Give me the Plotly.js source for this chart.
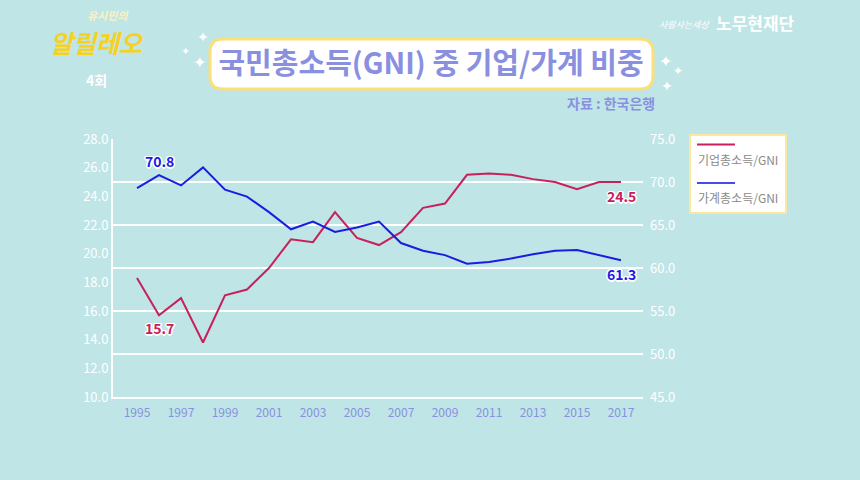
<!DOCTYPE html>
<html>
<head>
<meta charset="utf-8">
<script src="https://cdn.plot.ly/plotly-3.0.1.min.js"></script>
<style>
html,body{margin:0;padding:0;background:#bfe5e7;}
#chart{width:860px;height:480px;}
</style>
</head>
<body>
<div id="chart"></div>
<script>
// ---- data ----
const years = [1995,1996,1997,1998,1999,2000,2001,2002,2003,2004,2005,2006,2007,2008,2009,2010,2011,2012,2013,2014,2015,2016,2017];
const corpShare = [18.3,15.7,16.9,13.8,17.1,17.5,19.0,21.0,20.8,22.9,21.1,20.6,21.5,23.2,23.5,25.5,25.6,25.5,25.2,25.0,24.5,25.0,25.0];
const houseShare = [69.3,70.8,69.6,71.7,69.1,68.3,66.5,64.5,65.4,64.2,64.7,65.4,62.9,62.0,61.5,60.5,60.7,61.1,61.6,62.0,62.1,61.5,60.9];
const seriesNames = ['기업총소득/GNI','가계총소득/GNI'];
const titleText = '국민총소득(GNI) 중 기업/가계 비중';
const sourceText = '자료 : 한국은행';
// labels: [series index, year, text]
const pointLabels = [[1,1996,'70.8'],[0,1996,'15.7'],[0,2017,'24.5'],[1,2017,'61.3']];

// ---- styling ----
const BG = '#bfe5e7';
const RED = '#c8205a';
const BLUE = '#1c1ce0';
const PERI = '#8a90e0';
const FONT = '"Noto Sans CJK KR", "Noto Sans", sans-serif';

// plot area in pixels
const L = 113, R = 643, T = 139, B = 397;
const px = X => (X - L) / (R - L);
const py = Y => (B - Y) / (B - T);

function roundRect(x0, y0, x1, y1, r) {
  const p = (x, y) => px(x) + ',' + py(y);
  return 'M' + p(x0 + r, y0) + ' L' + p(x1 - r, y0) + ' Q' + p(x1, y0) + ' ' + p(x1, y0 + r) +
    ' L' + p(x1, y1 - r) + ' Q' + p(x1, y1) + ' ' + p(x1 - r, y1) +
    ' L' + p(x0 + r, y1) + ' Q' + p(x0, y1) + ' ' + p(x0, y1 - r) +
    ' L' + p(x0, y0 + r) + ' Q' + p(x0, y0) + ' ' + p(x0 + r, y0) + ' Z';
}

const traces = [
  {x: years, y: corpShare, name: seriesNames[0], type: 'scatter', mode: 'lines',
   line: {color: RED, width: 2}, yaxis: 'y', hoverinfo: 'x+y'},
  {x: years, y: houseShare, name: seriesNames[1], type: 'scatter', mode: 'lines',
   line: {color: BLUE, width: 2}, yaxis: 'y2', hoverinfo: 'x+y'}
];

const outline = '-1px -1px 0 #fff, 1px -1px 0 #fff, -1px 1px 0 #fff, 1px 1px 0 #fff, 0 1.5px 0 #fff, 0 -1.5px 0 #fff, 1.5px 0 0 #fff, -1.5px 0 0 #fff';

const annotations = [];
// data labels
pointLabels.forEach(([s, yr, txt]) => {
  const i = years.indexOf(yr);
  const val = s === 0 ? corpShare[i] : houseShare[i];
  const above = (s === 1 && yr === 1996);
  annotations.push({
    x: yr, y: val, xref: 'x', yref: s === 0 ? 'y' : 'y2',
    text: '<b>' + txt + '</b>', showarrow: false,
    yshift: above ? 14 : (yr === 2017 ? -14 : -13),
    font: {family: FONT, size: 14, color: s === 0 ? RED : BLUE, shadow: outline}
  });
});
// source
annotations.push({xref: 'paper', yref: 'paper', x: px(657), y: py(103), xanchor: 'right', yanchor: 'middle',
  text: '<b>' + sourceText + '</b>', showarrow: false, font: {family: FONT, size: 14, color: PERI}});
// legend texts
annotations.push({xref: 'paper', yref: 'paper', x: px(696), y: py(159), xanchor: 'left', yanchor: 'middle',
  text: seriesNames[0], showarrow: false, font: {family: FONT, size: 12, color: '#8a8a8a'}});
annotations.push({xref: 'paper', yref: 'paper', x: px(696), y: py(197), xanchor: 'left', yanchor: 'middle',
  text: seriesNames[1], showarrow: false, font: {family: FONT, size: 12, color: '#8a8a8a'}});
// sparkles
[[203,37,14],[185,51,11],[199,63,16],[665,62,16],[678,71,12],[667,86,14]].forEach(([X,Y,S]) => {
  annotations.push({xref: 'paper', yref: 'paper', x: px(X), y: py(Y), xanchor: 'center', yanchor: 'middle',
    text: '✦', showarrow: false, font: {family: 'DejaVu Sans', size: S, color: '#ffffff'}});
});
// logos
annotations.push({xref: 'paper', yref: 'paper', x: px(108), y: py(15), xanchor: 'center', yanchor: 'middle',
  text: '<b><i>유시민의</i></b>', showarrow: false, font: {family: FONT, size: 11, color: '#fbf2c0'}});
annotations.push({xref: 'paper', yref: 'paper', x: px(97), y: py(42), xanchor: 'center', yanchor: 'middle',
  text: '<b><i>알릴레오</i></b>', showarrow: false, font: {family: FONT, size: 25, color: '#f6d21e'}});
annotations.push({xref: 'paper', yref: 'paper', x: px(96), y: py(80), xanchor: 'center', yanchor: 'middle',
  text: '<b>4회</b>', showarrow: false, font: {family: FONT, size: 14, color: '#ffffff'}});
annotations.push({xref: 'paper', yref: 'paper', x: px(712), y: py(24), xanchor: 'right', yanchor: 'middle',
  text: '<i>사람사는세상</i>', showarrow: false, font: {family: FONT, size: 9, color: '#ffffff'}});
annotations.push({xref: 'paper', yref: 'paper', x: px(714), y: py(22), xanchor: 'left', yanchor: 'middle',
  text: '<b>노무현재단</b>', showarrow: false, font: {family: FONT, size: 17, color: '#ffffff'}});

const shapes = [
  // title box
  {type: 'path', xref: 'paper', yref: 'paper', path: roundRect(210, 39, 653, 89, 13),
   fillcolor: '#ffffff', line: {color: '#fbe07a', width: 3}, layer: 'below'},
  // legend box
  {type: 'rect', xref: 'paper', yref: 'paper', x0: px(690), x1: px(786), y0: py(135), y1: py(213),
   fillcolor: '#ffffff', line: {color: '#fbe89a', width: 2}, layer: 'below'},
  {type: 'line', xref: 'paper', yref: 'paper', x0: px(697), x1: px(735), y0: py(144.5), y1: py(144.5),
   line: {color: RED, width: 2}},
  {type: 'line', xref: 'paper', yref: 'paper', x0: px(697), x1: px(735), y0: py(183), y1: py(183),
   line: {color: '#4a4ae8', width: 2}}
];

const layout = {
  width: 860, height: 480,
  paper_bgcolor: BG, plot_bgcolor: BG,
  margin: {l: L, r: 860 - R, t: T, b: 480 - B, pad: 0},
  showlegend: false,
  title: {text: '<b>' + titleText + '</b>', x: 431 / 860, xanchor: 'center', y: 1 - 64 / 480, yanchor: 'middle',
          xref: 'container', yref: 'container',
          font: {family: FONT, size: 29, color: PERI}},
  xaxis: {range: [1995 - 24 / 22, 2018], tick0: 1995, dtick: 2, showgrid: false, zeroline: false,
          showline: true, linecolor: '#ffffff', linewidth: 2, ticks: '',
          tickfont: {family: FONT, size: 12, color: PERI}, ticklabelstandoff: 4},
  yaxis: {range: [10, 28], dtick: 2, tickformat: '.1f', showgrid: false, zeroline: false,
          showline: true, linecolor: '#ffffff', linewidth: 2, ticks: '',
          tickfont: {family: FONT, size: 13, color: '#ffffff'}},
  yaxis2: {range: [45, 75], dtick: 5, tickformat: '.1f', overlaying: 'y', side: 'right',
           showgrid: true, gridcolor: '#ffffff', gridwidth: 2, zeroline: false, showline: false, ticks: '',
           tickfont: {family: FONT, size: 13, color: '#ffffff'}, ticklabelstandoff: 6},
  annotations: annotations,
  shapes: shapes
};

Plotly.newPlot('chart', traces, layout, {displayModeBar: false, staticPlot: true});
</script>
</body>
</html>
